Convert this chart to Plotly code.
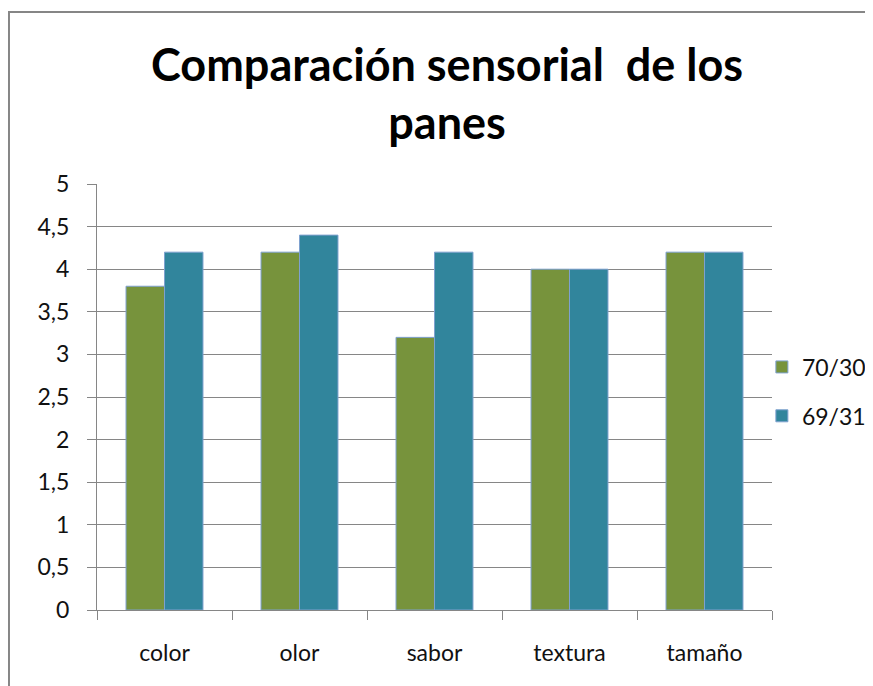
import plotly.graph_objects as go

categorias = ["color", "olor", "sabor", "textura", "tamaño"]
serie_70_30 = [3.8, 4.2, 3.2, 4.0, 4.2]
serie_69_31 = [4.2, 4.4, 4.2, 4.0, 4.2]
y_ticks = [0, 0.5, 1, 1.5, 2, 2.5, 3, 3.5, 4, 4.5, 5]

verde = "#77933C"
azul = "#31859C"
gris = "#868686"
fuente = "Lato, Carlito, Calibri, sans-serif"

fig = go.Figure()
fig.add_trace(go.Bar(x=categorias, y=serie_70_30, name="70/30", legendgroup="a",
                     marker=dict(color=verde, line=dict(color="#7EA1CF", width=1))))
fig.add_trace(go.Bar(x=categorias, y=serie_69_31, name="69/31", legendgroup="b",
                     marker=dict(color=azul, line=dict(color="#7EA1CF", width=1))))

# the page adds an 8px body margin; figure is a bit larger than the window so the
# legend doesn't push the right margin (the overflow is simply off screen)
fig.update_layout(
    width=890, height=700,
    margin=dict(l=89, r=126, t=176, b=98),
    paper_bgcolor="white", plot_bgcolor="white",
    separators=", ",
    barmode="group", bargap=0.43, bargroupgap=0,
    font=dict(family=fuente, size=23, color="#111111"),
    title=dict(text="<b>Comparación sensorial  de los<br>panes</b>",
               x=0.4933, xanchor="center", y=0.8964, yanchor="middle",
               font=dict(family=fuente, size=45, color="#000000")),
    legend=dict(x=0.985, xanchor="left", y=0.513, yanchor="middle",
                font=dict(size=23), tracegroupgap=16, itemwidth=30,
                bgcolor="rgba(0,0,0,0)"),
    xaxis=dict(showline=True, linecolor=gris, linewidth=1,
               ticks="outside", ticklen=9, tickcolor=gris, tickson="boundaries",
               showgrid=False, ticklabelstandoff=22),
    yaxis=dict(range=[0, 5], tickvals=y_ticks, showgrid=True, gridcolor=gris, gridwidth=1,
               showline=True, linecolor=gris, linewidth=1,
               ticks="outside", ticklen=9, tickcolor=gris, zeroline=False,
               ticklabelstandoff=13),
    shapes=[dict(type="rect", xref="paper", yref="paper", x0=-0.1304, x1=1.3, y0=-0.4, y1=1.4038,
                 line=dict(color=gris, width=2))],
)

fig.write_html("out.html")
